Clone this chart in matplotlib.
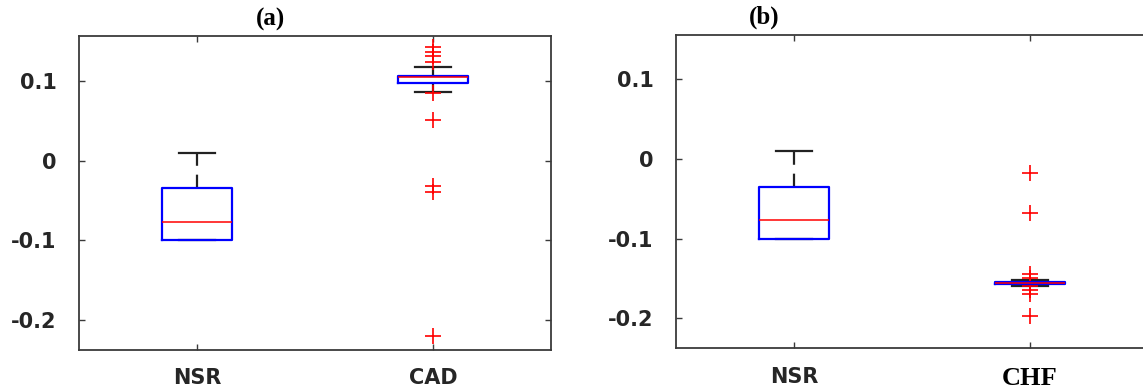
import matplotlib.pyplot as plt
import numpy as np

plt.rcParams['axes.unicode_minus'] = False

# resumo das caixas (quartis, mediana, bigodes) e outliers de cada grupo
grupos_a = ['NSR', 'CAD']
grupos_b = ['NSR', 'CHF']

nsr_q1, nsr_med, nsr_q3 = -0.100, -0.077, -0.035
nsr_whislo, nsr_whishi = -0.100, 0.010
nsr_outliers = []

cad_q1, cad_med, cad_q3 = 0.098, 0.1045, 0.106
cad_whislo, cad_whishi = 0.086, 0.117
cad_outliers = [0.143, 0.137, 0.131, 0.124, 0.085, 0.051, -0.032, -0.039, -0.221]

chf_q1, chf_med, chf_q3 = -0.157, -0.156, -0.155
chf_whislo, chf_whishi = -0.160, -0.152
chf_outliers = [-0.018, -0.068, -0.145, -0.150, -0.160, -0.165, -0.170, -0.197]

yticks = [0.1, 0, -0.1, -0.2]
ytick_labels = ['0.1', '0', '-0.1', '-0.2']


def stats(nome, q1, med, q3, lo, hi, fliers):
    return {'label': nome, 'q1': q1, 'med': med, 'q3': q3,
            'whislo': lo, 'whishi': hi, 'fliers': np.array(fliers)}


def desenha(ax, caixas, titulo, titulo_x, serif_label=None, lado_direito=True):
    ax.bxp(caixas, positions=[1, 2], widths=0.3, capwidths=0.15,
           boxprops=dict(color='blue', linewidth=1.6, zorder=2.2),
           medianprops=dict(color='red', linewidth=1.1, zorder=2.3),
           whiskerprops=dict(color='#222222', linewidth=1.6, linestyle=(0, (6, 4)), zorder=1.8),
           capprops=dict(color='#222222', linewidth=1.6, zorder=1.8),
           flierprops=dict(marker='+', markeredgecolor='red', markersize=12,
                           markeredgewidth=1.2, linestyle='none'))
    ax.set_xlim(0.5, 2.5)
    ax.set_ylim(-0.238, 0.156)
    ax.set_yticks(yticks)
    ax.set_yticklabels(ytick_labels)
    for s in ax.spines.values():
        s.set_color('#3a3a3a')
        s.set_linewidth(1.3)
    ax.tick_params(direction='in', length=4, width=1, color='#3a3a3a',
                   top=True, right=lado_direito, labelsize=15, labelcolor='#262626')
    ax.tick_params(axis='y', pad=16)
    ax.tick_params(axis='x', pad=13)
    for t in ax.get_yticklabels() + ax.get_xticklabels():
        t.set_fontweight('bold')
        t.set_family('DejaVu Sans')
    if serif_label is not None:
        t = ax.get_xticklabels()[serif_label]
        t.set_family('Liberation Serif')
        t.set_color('black')
        t.set_fontsize(19)
    ax.text(titulo_x, 1.018, titulo, transform=ax.transAxes, ha='center', va='bottom',
            fontsize=18, fontweight='bold', family='Liberation Serif')


fig = plt.figure(figsize=(11.43, 3.91), dpi=100)
ax1 = fig.add_axes([0.0691, 0.1049, 0.413, 0.802])
ax2 = fig.add_axes([0.5914, 0.1087, 0.413, 0.802])

caixas_a = [stats('NSR', nsr_q1, nsr_med, nsr_q3, nsr_whislo, nsr_whishi, nsr_outliers),
            stats('CAD', cad_q1, cad_med, cad_q3, cad_whislo, cad_whishi, cad_outliers)]
caixas_b = [stats('NSR', nsr_q1, nsr_med, nsr_q3, nsr_whislo, nsr_whishi, nsr_outliers),
            stats('CHF', chf_q1, chf_med, chf_q3, chf_whislo, chf_whishi, chf_outliers)]

desenha(ax1, caixas_a, '(a)', 0.405)
desenha(ax2, caixas_b, '(b)', 0.186, serif_label=1, lado_direito=False)

fig.savefig('out.png', dpi=100)
